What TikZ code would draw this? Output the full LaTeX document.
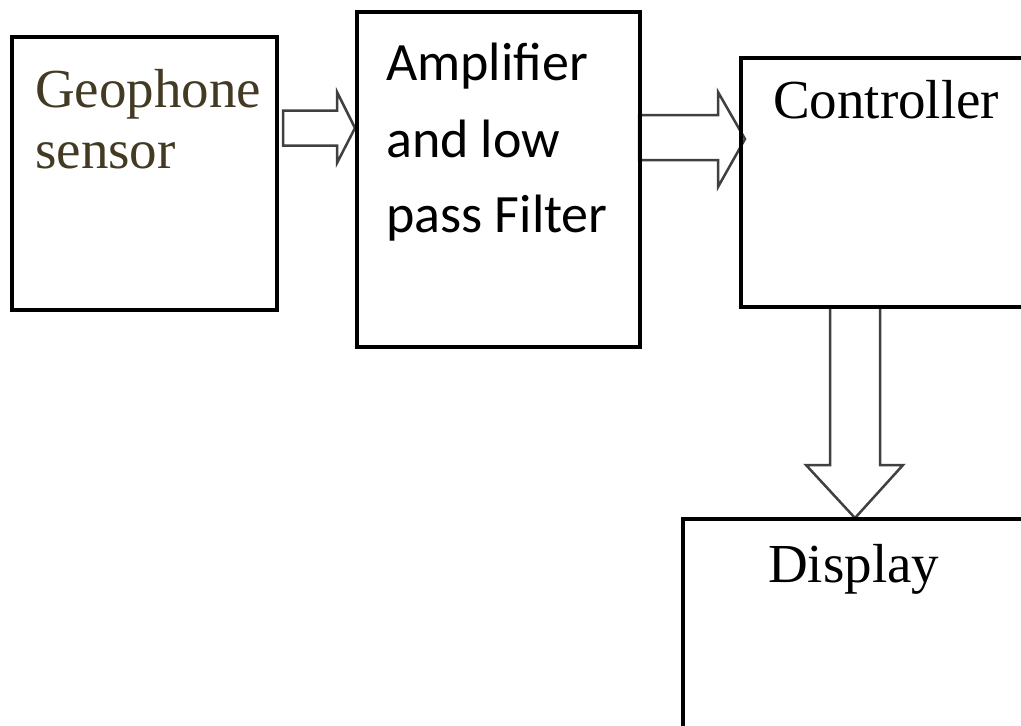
\documentclass[tikz,border=0pt]{standalone}
\usepackage{fontspec}
\setmainfont{Liberation Serif}
\newfontfamily\amplifont{Carlito}
\usetikzlibrary{calc}
\definecolor{geobrown}{HTML}{433A24}
\definecolor{arrowgray}{HTML}{404040}
\begin{document}
\begin{tikzpicture}[x=1pt,y=-1pt,
  blockbox/.style={draw=black,line width=3.5pt,fill=white,rectangle,inner sep=0pt,outer sep=0pt,anchor=north west},
  fatarrow/.style={draw=arrowgray,line width=2.5pt,fill=white,line join=miter},
  serifbig/.style={font=\fontsize{55}{61}\selectfont,anchor=base west,inner sep=0pt,align=left},
  sansbig/.style={font=\amplifont\fontsize{54}{77}\selectfont,anchor=base west,inner sep=0pt,align=left}]
\useasboundingbox (0,0) rectangle (1021,726);
\fill[white] (0,0) rectangle (1021,726);
% boxes
\node[blockbox,minimum width=265pt,minimum height=273pt] (b1) at (12,37) {};
\node[blockbox,minimum width=283pt,minimum height=335pt] (b2) at (357,12) {};
\node[blockbox,minimum width=289pt,minimum height=249pt] (b3) at (741,58) {};
\node[blockbox,minimum width=347pt,minimum height=221pt] (b4) at (683,519) {};
% texts
\node[serifbig,text=geobrown] (geo) at (35,107) {Geophone};
\node[serifbig,text=geobrown] (sen) at (35,168) {sensor};
\node[sansbig] (amp1) at (386,80) {Amplifier};
\node[sansbig] (amp2) at (386,157) {and low};
\node[sansbig] (amp3) at (386,232) {pass Filter};
\node[serifbig] (ctrl) at (773,118) {Controller};
\node[serifbig] (disp) at (768,582) {Display};
% arrow end points
\coordinate (a1s) at ($(b1.north east)+(6,91)$);
\coordinate (a1t) at ($(b2.north west)+(-2,116)$);
\coordinate (a2s) at ($(b2.north east)+(-1,125.5)$);
\coordinate (a2t) at ($(b3.north west)+(4,81)$);
\coordinate (a3s) at ($(b3.south west)+(114,0)$);
\coordinate (a3t) at ($(b4.north west)+(172,-1)$);
% arrows
\draw[fatarrow] let \p1=(a1s), \p2=(a1t) in
  (\x1,\y1+17.5pt) -- (\x2-18pt,\y1+17.5pt) -- (\x2-18pt,\y2+36pt) -- (\x2,\y2)
  -- (\x2-18pt,\y2-35pt) -- (\x2-18pt,\y1-17.5pt) -- (\x1,\y1-17.5pt) -- cycle;
\draw[fatarrow] let \p1=(a2s), \p2=(a2t) in
  (\x1,\y1+22.5pt) -- (\x2-27pt,\y1+22.5pt) -- (\x2-27pt,\y2+47pt) -- (\x2,\y2)
  -- (\x2-27pt,\y2-48pt) -- (\x2-27pt,\y1-22.5pt) -- (\x1,\y1-22.5pt) -- cycle;
\draw[fatarrow] let \p1=(a3s), \p2=(a3t) in
  (\x1-25pt,\y1) -- (\x1-25pt,\y2+53pt) -- (\x2-49pt,\y2+53pt) -- (\x2,\y2)
  -- (\x2+48pt,\y2+53pt) -- (\x1+25pt,\y2+53pt) -- (\x1+25pt,\y1) -- cycle;
% box edges on top of the arrows
\draw[black,line width=3.5pt] (b2.north west) -- (b2.south west);
\draw[black,line width=3.5pt] (b2.north east) -- (b2.south east);
\draw[black,line width=3.5pt] (b3.north west) -- (b3.south west);
\draw[black,line width=3.5pt,line cap=rect] (b3.south west) -- (b3.south east);
\draw[black,line width=3.5pt] (b4.north west) -- (b4.north east);
\end{tikzpicture}
\end{document}
